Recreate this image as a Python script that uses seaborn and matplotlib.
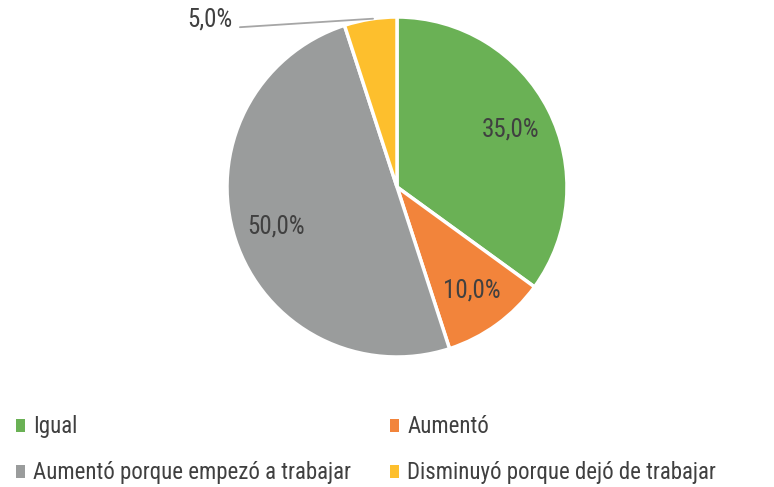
import numpy as np
import matplotlib
matplotlib.use("Agg")
import matplotlib.pyplot as plt
import seaborn as sns
from matplotlib.patches import Patch

# - Data
"---------------------------------------------------------------------------"
categorias = ['Igual', 'Aumentó', 'Aumentó porque empezó a trabajar',
              'Disminuyó porque dejó de trabajar']
porcentajes = [35.0, 10.0, 50.0, 5.0]
colores = ['#6ab155', '#f2843b', '#9a9c9c', '#fdbf2d']

# - Plot settings
"---------------------------------------------------------------------------"
sns.set_theme(style='white')
plt.rcParams['font.family'] = ['Roboto Condensed', 'Liberation Sans Narrow', 'DejaVu Sans']
txt_color = '#404040'

fig = plt.figure(figsize=(7.74, 4.87), dpi=100)
W, H = 774, 487
cx, cy, r = 397, 187, 170
ax = fig.add_axes([(cx - r) / W, (H - cy - r) / H, 2 * r / W, 2 * r / H])

wedges, texts, autotexts = ax.pie(
    porcentajes, colors=colores, startangle=90, counterclock=False,
    autopct=lambda p: f'{p:.1f}%'.replace('.', ','), pctdistance=0.75,
    wedgeprops=dict(edgecolor='white', linewidth=2.5),
    textprops=dict(color=txt_color, fontsize=18))
ax.set_xlim(-1, 1)
ax.set_ylim(-1, 1)
ax.set_aspect('equal')

# small slice label outside with leader line
w = wedges[3]
ang = np.deg2rad(w.theta1 + (w.theta2 - w.theta1) * 0.45)
lbl = autotexts[3].get_text()
autotexts[3].set_visible(False)
ax.plot([np.cos(ang), -0.924], [np.sin(ang), 0.94], color='#a6a6a6', lw=1.3,
        clip_on=False)
ax.text(-0.965, 0.985, lbl, ha='right', va='center', color=txt_color,
        fontsize=18, clip_on=False)

# legend, row order: Igual | Aumentó ; Aumentó porque... | Disminuyó...
orden = [0, 2, 1, 3]
handles = [Patch(facecolor=colores[i], edgecolor='none') for i in orden]
leg = fig.legend(handles, [categorias[i] for i in orden], ncol=2,
                 loc='upper left', bbox_to_anchor=(0.0, 0.18), borderpad=0.2,
                 frameon=False, fontsize=16.5, handlelength=0.4, handleheight=0.5,
                 handletextpad=0.35, columnspacing=1.7, labelspacing=1.0,
                 labelcolor=txt_color)

fig.savefig('out.png', dpi=100, facecolor='white')
